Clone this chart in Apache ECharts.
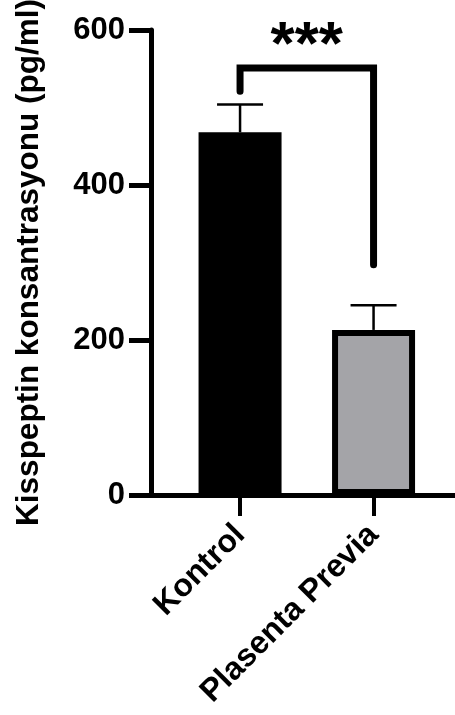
<!DOCTYPE html>
<html>
<head>
<meta charset="utf-8">
<script src="https://cdn.jsdelivr.net/npm/echarts@6/dist/echarts.min.js"></script>
<style>
html,body{margin:0;padding:0;background:#fff;}
#chart{width:455px;height:715px;}
</style>
</head>
<body>
<div id="chart"></div>
<script>
// ---- data ----
const categories = ['Kontrol', 'Plasenta Previa'];
const categoryX = [1, 2];
const means = [468, 213];
const upperErrors = [504, 245];
const yTicks = [0, 200, 400, 600];
const yTitle = 'Kisspeptin konsantrasyonu (pg/ml)';
const bracketX = [1, 1, 2, 2];
const bracketY = [521, 551, 551, 297];
const significance = '***';
const significancePos = [1.5, 578];

// ---- chart ----
const barColors = ['#000000', '#a4a4a8'];
const FONT = 'Liberation Sans, Arial, Helvetica, sans-serif';

const chart = echarts.init(document.getElementById('chart'), null, {renderer: 'canvas'});

const option = {
  animation: false,
  backgroundColor: '#ffffff',
  grid: {left: 151, right: 0, top: 30, bottom: 220, containLabel: false, outerBoundsMode: 'none'},
  xAxis: {
    type: 'value',
    min: 0.333,
    max: 2.61,
    splitLine: {show: false},
    axisLine: {show: true, lineStyle: {color: '#000', width: 5}},
    axisTick: {show: true, customValues: categoryX, length: 21, lineStyle: {color: '#000', width: 4}},
    axisLabel: {
      show: true,
      customValues: categoryX,
      formatter: v => categories[categoryX.indexOf(Math.round(v))] || '',
      rotate: 45,
      margin: 35,
      fontSize: 32,
      fontWeight: 'bold',
      fontFamily: FONT,
      color: '#000'
    }
  },
  yAxis: {
    type: 'value',
    min: yTicks[0],
    max: yTicks[yTicks.length - 1],
    interval: yTicks[1] - yTicks[0],
    name: yTitle,
    nameLocation: 'middle',
    nameRotate: 90,
    nameGap: 106,
    nameTextStyle: {fontSize: 31.5, fontWeight: 'bold', fontFamily: FONT, color: '#000'},
    splitLine: {show: false},
    axisLine: {show: true, lineStyle: {color: '#000', width: 5}},
    axisTick: {show: true, length: 22, lineStyle: {color: '#000', width: 5}},
    axisLabel: {margin: 26, fontSize: 31, fontWeight: 'bold', fontFamily: FONT, color: '#000'}
  },
  series: [
    {
      type: 'bar',
      barWidth: 83,
      data: categoryX.map((x, i) => ({
        value: [x, means[i]],
        itemStyle: {color: barColors[i], borderColor: '#000', borderWidth: 6}
      })),
      z: 2
    },
    {
      type: 'custom',
      z: 3,
      data: categoryX.map((x, i) => [x, means[i], upperErrors[i]]),
      renderItem: (params, api) => {
        const x = api.value(0);
        const lo = api.coord([x, api.value(1)]);
        const hi = api.coord([x, api.value(2)]);
        const half = 23;
        return {
          type: 'group',
          children: [
            {type: 'line', shape: {x1: lo[0], y1: lo[1], x2: hi[0], y2: hi[1]}, style: {stroke: '#000', lineWidth: 2.5}},
            {type: 'line', shape: {x1: hi[0] - half, y1: hi[1], x2: hi[0] + half, y2: hi[1]}, style: {stroke: '#000', lineWidth: 2.5}}
          ]
        };
      }
    },
    {
      type: 'line',
      z: 4,
      symbol: 'none',
      data: bracketX.map((x, i) => [x, bracketY[i]]),
      lineStyle: {color: '#000', width: 7, cap: 'round', join: 'miter'}
    },
    {
      type: 'scatter',
      z: 5,
      symbolSize: 0,
      itemStyle: {opacity: 1, color: '#000'},
      data: [significancePos],
      label: {
        show: true,
        position: 'inside',
        formatter: significance,
        fontSize: 62,
        fontWeight: 'bold',
        fontFamily: FONT,
        color: '#000',
        opacity: 1
      }
    }
  ]
};

chart.setOption(option);
</script>
</body>
</html>
